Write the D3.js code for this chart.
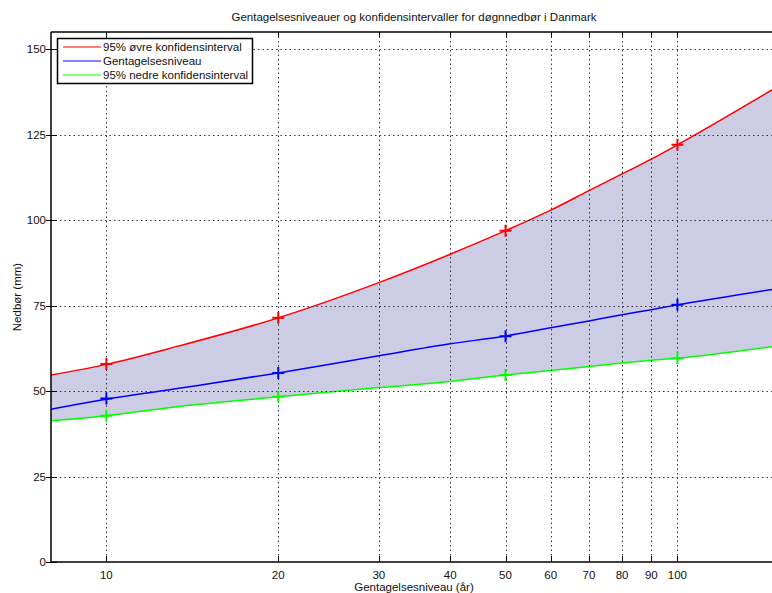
<!DOCTYPE html>
<html>
<head>
<meta charset="utf-8">
<script src="https://cdn.jsdelivr.net/npm/d3@7"></script>
<style>
  body { margin: 0; background: #fff; }
  text { font-family: "Liberation Sans", Arial, sans-serif; }
</style>
</head>
<body>
<div id="chart"></div>
<script>
// Gentagelsesniveau (år) - punkter aflæst langs kurverne
const returnPeriods = [8, 10, 13.4, 20, 30, 40, 50, 60, 70, 80, 90, 100, 150];
const upperCI = [54.7, 57.8, 63.2, 71.4, 81.7, 90.0, 96.9, 102.9, 108.6, 113.5, 117.8, 122.0, 139.1];
const returnLevel = [44.7, 47.6, 50.8, 55.3, 60.3, 63.8, 66.1, 68.5, 70.5, 72.3, 73.8, 75.2, 80.0];
const lowerCI = [41.3, 42.8, 45.5, 48.3, 51.0, 52.8, 54.7, 56.0, 57.2, 58.2, 59.0, 59.6, 63.2];

// markører (+)
const markerT = [10, 20, 50, 100];
const markerUpper = [57.9, 71.4, 96.9, 122.0];
const markerLevel = [47.8, 55.3, 66.0, 75.2];
const markerLower = [42.8, 48.3, 54.7, 59.6];

const xTicks = [10, 20, 30, 40, 50, 60, 70, 80, 90, 100];
const yTicks = [0, 25, 50, 75, 100, 125, 150];

const legendItems = [
    { label: "95% øvre konfidensinterval", color: "#ff0000" },
    { label: "Gentagelsesniveau", color: "#0000ff" },
    { label: "95% nedre konfidensinterval", color: "#00ff00" }
];

let fullWidth = 772, fullHeight = 593;
let pLeft = 51, pRight = 778, pTop = 32, pBottom = 562;
let fontSize = "11.5px", textColor = "#111";

let svg = d3.select("#chart")
    .append("svg")
    .attr("width", fullWidth)
    .attr("height", fullHeight);

let x = d3.scaleLog().domain([8, 150]).range([pLeft, pRight]);
let y = d3.scaleLinear().domain([0, 155]).range([pBottom, pTop]);

svg.append("clipPath").attr("id", "clip")
    .append("rect")
    .attr("x", pLeft).attr("y", pTop)
    .attr("width", pRight - pLeft).attr("height", pBottom - pTop);

let plot = svg.append("g").attr("clip-path", "url(#clip)");

// Skraveret område mellem øvre og nedre konfidensinterval
let band = returnPeriods.map((t, i) => ({ t: t, hi: upperCI[i], lo: lowerCI[i] }));
plot.append("path")
    .datum(band)
    .attr("fill", "#ccccE4")
    .attr("d", d3.area()
        .x(d => x(d.t))
        .y0(d => y(d.lo))
        .y1(d => y(d.hi))
        .curve(d3.curveMonotoneX));

// Gitterlinjer
let grid = svg.append("g")
    .attr("stroke", "#333")
    .attr("stroke-width", 1)
    .attr("stroke-dasharray", "1.5,3,1.5,3");

grid.selectAll(".gx")
    .data(xTicks)
    .enter()
    .append("line")
    .attr("x1", d => Math.round(x(d)) + 0.5)
    .attr("x2", d => Math.round(x(d)) + 0.5)
    .attr("y1", pTop)
    .attr("y2", pBottom);

grid.selectAll(".gy")
    .data(yTicks.filter(d => d > 0))
    .enter()
    .append("line")
    .attr("x1", pLeft)
    .attr("x2", pRight)
    .attr("y1", d => Math.round(y(d)) + 0.5)
    .attr("y2", d => Math.round(y(d)) + 0.5);

// Kurver
let series = [
    { values: upperCI, color: "#ff0000" },
    { values: returnLevel, color: "#0000ff" },
    { values: lowerCI, color: "#00ff00" }
];

let line = d3.line()
    .x(d => x(d[0]))
    .y(d => y(d[1]))
    .curve(d3.curveMonotoneX);

series.forEach(s => {
    plot.append("path")
        .datum(returnPeriods.map((t, i) => [t, s.values[i]]))
        .attr("fill", "none")
        .attr("stroke", s.color)
        .attr("stroke-width", 1.5)
        .attr("d", line);
});

// Markører
let markers = [
    { values: markerUpper, color: "#ff0000" },
    { values: markerLevel, color: "#0000ff" },
    { values: markerLower, color: "#00ff00" }
];

markers.forEach(m => {
    let g = svg.append("g");
    markerT.forEach((t, i) => {
        let cx = x(t), cy = y(m.values[i]);
        g.append("path")
            .attr("d", `M${cx - 6},${cy}H${cx + 6}M${cx},${cy - 6}V${cy + 6}`)
            .attr("stroke", m.color)
            .attr("stroke-width", 2);
    });
});

// Akser (ramme og tick-mærker indad)
let axes = svg.append("g").attr("stroke", "#000");
axes.append("line").attr("x1", pLeft).attr("x2", pRight).attr("y1", pBottom).attr("y2", pBottom).attr("stroke-width", 1.5);
axes.append("line").attr("x1", pLeft).attr("x2", pRight).attr("y1", pTop).attr("y2", pTop).attr("stroke-width", 1.5);
axes.append("line").attr("x1", pLeft).attr("x2", pLeft).attr("y1", pTop).attr("y2", pBottom).attr("stroke-width", 1.5);

axes.selectAll(".tb")
    .data(xTicks)
    .enter()
    .append("path")
    .attr("stroke-width", 1)
    .attr("d", d => {
        let px = Math.round(x(d)) + 0.5;
        return `M${px},${pBottom}V${pBottom - 6}M${px},${pTop}V${pTop + 6}`;
    });

axes.selectAll(".tl")
    .data(yTicks)
    .enter()
    .append("path")
    .attr("stroke-width", 1)
    .attr("d", d => {
        let py = Math.round(y(d)) + 0.5;
        return `M${pLeft - 5},${py}H${pLeft + 6}`;
    });

// Tick-labels
svg.selectAll(".xl")
    .data(xTicks)
    .enter()
    .append("text")
    .attr("x", d => x(d))
    .attr("y", 579)
    .attr("text-anchor", "middle")
    .style("font-size", fontSize)
    .style("fill", textColor)
    .text(d => d);

svg.selectAll(".yl")
    .data(yTicks)
    .enter()
    .append("text")
    .attr("x", 46)
    .attr("y", d => y(d) + 4)
    .attr("text-anchor", "end")
    .style("font-size", fontSize)
    .style("fill", textColor)
    .text(d => d);

// Titel og aksetitler
svg.append("text")
    .attr("x", 414)
    .attr("y", 21)
    .attr("text-anchor", "middle")
    .style("font-size", fontSize)
    .style("fill", textColor)
    .text("Gentagelsesniveauer og konfidensintervaller for døgnnedbør i Danmark");

svg.append("text")
    .attr("x", 414)
    .attr("y", 591)
    .attr("text-anchor", "middle")
    .style("font-size", fontSize)
    .style("fill", textColor)
    .text("Gentagelsesniveau (år)");

svg.append("text")
    .attr("transform", "translate(21,297) rotate(-90)")
    .attr("text-anchor", "middle")
    .style("font-size", fontSize)
    .style("fill", textColor)
    .text("Nedbør (mm)");

// Legende
let legend = svg.append("g");
legend.append("rect")
    .attr("x", 57.5).attr("y", 38.5)
    .attr("width", 195).attr("height", 45)
    .attr("fill", "#fff")
    .attr("stroke", "#000")
    .attr("stroke-width", 1.5);

legendItems.forEach((item, i) => {
    let ly = 47 + i * 14;
    legend.append("line")
        .attr("x1", 63).attr("x2", 101)
        .attr("y1", ly).attr("y2", ly)
        .attr("stroke", item.color)
        .attr("stroke-width", 1);
    legend.append("text")
        .attr("x", 103)
        .attr("y", ly + 4)
        .style("font-size", fontSize)
        .style("fill", textColor)
        .text(item.label);
});
</script>
</body>
</html>
